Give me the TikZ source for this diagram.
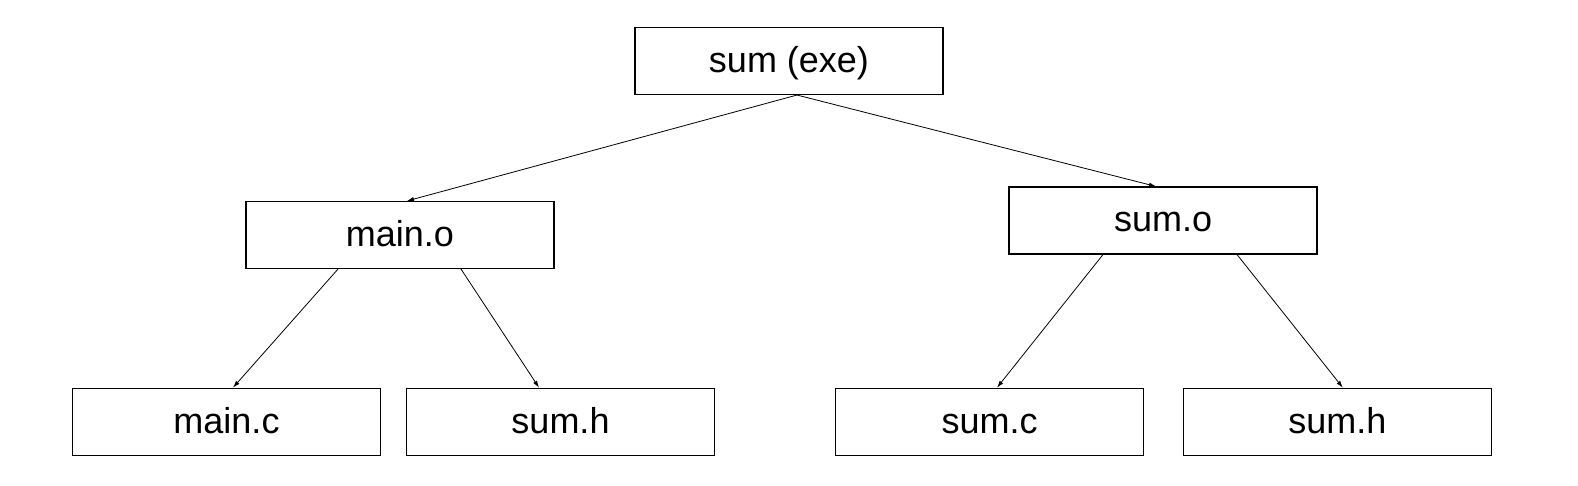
\documentclass[tikz,border=0pt]{standalone}
\usepackage{fontspec}
\setmainfont{Liberation Sans}
\usetikzlibrary{arrows.meta}
\begin{document}
\begin{tikzpicture}[x=1pt,y=-1pt,
  box/.style={draw=black,line width=1.1pt,rectangle,minimum width=308pt,minimum height=67pt,inner sep=0pt,text height=26pt,text depth=3pt,font=\fontsize{36}{40}\selectfont},
  conn/.style={draw=black,line width=0.8pt,-{Latex[length=7pt,width=4.5pt]}}]
\useasboundingbox (0,0) rectangle (1578,486);
\node[box] (exe) at (789,61) {sum (exe)};
\node[box] (maino) at (400,235) {main.o};
\node[box] (sumo) at (1163,220.5) {sum.o};
\node[box] (mainc) at (226.5,421.7) {main.c};
\node[box] (sumhl) at (560.5,421.7) {sum.h};
\node[box] (sumc) at (989.5,421.7) {sum.c};
\node[box] (sumhr) at (1337.3,421.7) {sum.h};
\draw[conn] ([xshift=8pt]exe.south) -- ([xshift=7pt]maino.north);
\draw[conn] ([xshift=8pt]exe.south) -- ([xshift=-7pt]sumo.north);
\draw[conn] ([xshift=-62pt]maino.south) -- ([xshift=6.5pt]mainc.north);
\draw[conn] ([xshift=61pt]maino.south) -- ([xshift=-21.5pt]sumhl.north);
\draw[conn] ([xshift=-60pt]sumo.south) -- ([xshift=7.5pt]sumc.north);
\draw[conn] ([xshift=74pt]sumo.south) -- ([xshift=5.5pt]sumhr.north);
\end{tikzpicture}
\end{document}
